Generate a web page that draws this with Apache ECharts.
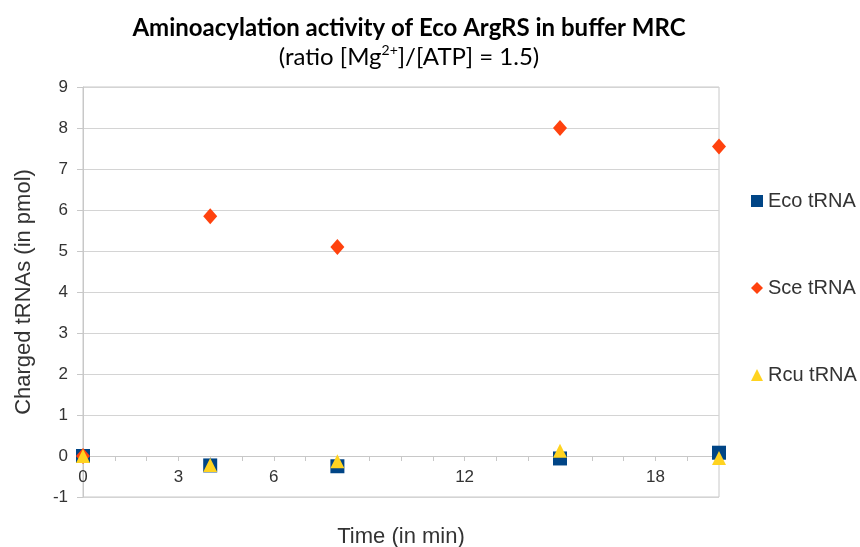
<!DOCTYPE html>
<html>
<head>
<meta charset="utf-8">
<script src="https://cdn.jsdelivr.net/npm/echarts@6/dist/echarts.min.js"></script>
<style>
  html, body { margin: 0; padding: 0; background: #fff; }
  #chart { width: 860px; height: 547px; }
</style>
</head>
<body>
<div id="chart"></div>
<script>
// Sampling times (min)
const times = [0, 4, 8, 15, 20];
// Charged tRNA amounts (pmol) per species
const ecoValues = [0, -0.23, -0.25, -0.06, 0.08];
const sceValues = [0, 5.85, 5.10, 8.0, 7.55];
const rcuValues = [0, -0.22, -0.13, 0.13, -0.05];
// Labelled positions on the time axis
const xTickLabels = [0, 3, 6, 12, 18];
const seriesNames = ['Eco tRNA', 'Sce tRNA', 'Rcu tRNA'];

const pairs = vals => times.map((t, i) => [t, vals[i]]);
const font = '"Liberation Sans", Arial, sans-serif';
const titleFont = 'Lato, "Open Sans", sans-serif';

const chart = echarts.init(document.getElementById('chart'), null, { renderer: 'canvas' });
chart.setOption({
  animation: false,
  backgroundColor: '#ffffff',
  title: {
    text: 'Aminoacylation activity of Eco ArgRS in buffer MRC',
    subtext: '{n|(ratio [Mg}{s|2+}{n|]/[ATP] = 1.5)}',
    left: 404,
    textAlign: 'center',
    top: 11,
    itemGap: 3,
    textStyle: { fontFamily: titleFont, fontWeight: 'bold', fontSize: 24, color: '#000' },
    subtextStyle: {
      rich: {
        n: { fontFamily: titleFont, fontSize: 24, color: '#000', lineHeight: 28 },
        s: { fontFamily: titleFont, fontSize: 14, color: '#000', verticalAlign: 'top', lineHeight: 28, padding: [0, 0, 10, 0] }
      }
    }
  },
  legend: {
    orient: 'vertical',
    left: 751,
    top: 191,
    padding: 0,
    itemGap: 67,
    itemWidth: 12,
    itemHeight: 12,
    textStyle: { fontFamily: font, fontSize: 20, color: '#333' },
    data: seriesNames
  },
  grid: {
    left: 83, right: 141, top: 87, bottom: 50,
    outerBoundsMode: 'none',
    containLabel: false,
    show: true, borderColor: '#c8c8c8', borderWidth: 1
  },
  xAxis: {
    type: 'value',
    min: 0, max: 20, interval: 1,
    name: 'Time (in min)',
    nameLocation: 'middle',
    nameGap: 29,
    nameTextStyle: { fontFamily: font, fontSize: 22, color: '#333' },
    axisLine: { show: true, onZero: true, lineStyle: { color: '#c8c8c8' } },
    axisTick: { show: true, length: 5, lineStyle: { color: '#c8c8c8' } },
    axisLabel: {
      fontFamily: font, fontSize: 17, color: '#333', margin: -28,
      formatter: v => xTickLabels.includes(v) ? String(v) : ''
    },
    splitLine: { show: false }
  },
  yAxis: {
    type: 'value',
    min: -1, max: 9, interval: 1,
    name: 'Charged tRNAs (in pmol)',
    nameLocation: 'middle',
    nameGap: 48,
    nameTextStyle: { fontFamily: font, fontSize: 22, color: '#333' },
    axisLine: { show: true, lineStyle: { color: '#c8c8c8' } },
    axisTick: { show: true, length: 6, lineStyle: { color: '#c8c8c8' } },
    axisLabel: { fontFamily: font, fontSize: 17, color: '#333', margin: 15 },
    splitLine: { show: true, lineStyle: { color: '#d4d4d4' } }
  },
  series: [
    { name: seriesNames[0], type: 'scatter', symbol: 'rect', symbolSize: 14,
      itemStyle: { color: '#004586', opacity: 1 }, data: pairs(ecoValues) },
    { name: seriesNames[1], type: 'scatter', symbol: 'diamond', symbolSize: [14, 16],
      itemStyle: { color: '#ff420e', opacity: 1 }, data: pairs(sceValues) },
    { name: seriesNames[2], type: 'scatter', symbol: 'triangle', symbolSize: [14, 14],
      itemStyle: { color: '#ffd320', opacity: 1 }, data: pairs(rcuValues) }
  ]
});
</script>
</body>
</html>
